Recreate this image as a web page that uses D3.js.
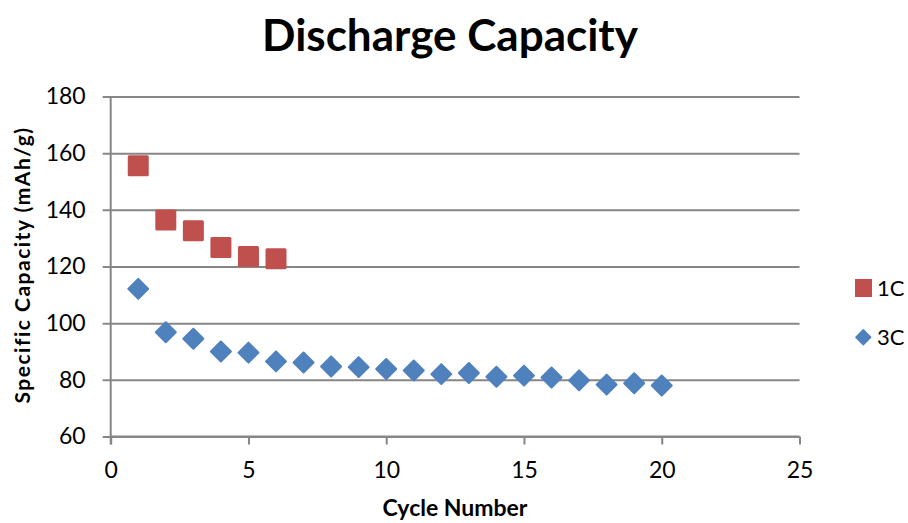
<!DOCTYPE html>
<html><head><meta charset="utf-8">
<script src="https://cdn.jsdelivr.net/npm/d3@7"></script>
<style>html,body{margin:0;padding:0;background:#fff;}svg{display:block;}</style>
</head><body>
<script>
const cycles1C = [1,2,3,4,5,6];
const values1C = [155.6,136.4,132.6,126.7,123.5,122.7];
const cycles3C = [1,2,3,4,5,6,7,8,9,10,11,12,13,14,15,16,17,18,19,20];
const values3C = [112.1,96.8,94.5,90.0,89.6,86.5,86.1,84.7,84.5,83.8,83.3,82.0,82.4,81.1,81.5,80.8,79.8,78.3,78.8,78.0];
const xTicks = [0,5,10,15,20,25];
const yTicks = [60,80,100,120,140,160,180];
const seriesNames = ["1C","3C"];

const W=908,H=523;
const font = "Lato, 'Open Sans', sans-serif";
const svg = d3.select("body").append("svg").attr("width",W).attr("height",H);
const x = d3.scaleLinear().domain([0,25]).range([110.7,799.5]);
const y = d3.scaleLinear().domain([60,180]).range([436.5,96.5]);
const grid="#868686";

const yAxis = d3.axisLeft(y).tickValues(yTicks).tickSize(8).tickPadding(17);
const gy = svg.append("g").attr("transform","translate(110.7,0)").call(yAxis);
gy.select(".domain").remove();
gy.selectAll(".tick line").attr("x2",799.5-110.7).attr("x1",-8).attr("stroke",grid).attr("stroke-width",2);
gy.selectAll(".tick text").attr("font-family",font).attr("font-size",23).attr("fill","#000");

const xAxis = d3.axisBottom(x).tickValues(xTicks).tickSize(8).tickPadding(17);
const gx = svg.append("g").attr("transform","translate(0,436.5)").call(xAxis);
gx.select(".domain").attr("d",`M110.7,0H799.5`).attr("stroke",grid).attr("stroke-width",2);
gx.selectAll(".tick line").attr("stroke",grid).attr("stroke-width",2);
gx.selectAll(".tick text").attr("font-family",font).attr("font-size",23).attr("fill","#000");

svg.append("line").attr("x1",x(0)).attr("x2",x(0)).attr("y1",y(180)).attr("y2",y(60)+8)
  .attr("stroke",grid).attr("stroke-width",2);

const data1 = cycles1C.map((c,i)=>({c,v:values1C[i]}));
const data3 = cycles3C.map((c,i)=>({c,v:values3C[i]}));
const sq=21;
svg.append("g").selectAll("rect").data(data1).join("rect")
  .attr("x",d=>x(d.c)-sq/2).attr("y",d=>y(d.v)-sq/2).attr("width",sq).attr("height",sq)
  .attr("rx",1.5).attr("fill","#c0504d");
svg.append("g").selectAll("path").data(data3).join("path")
  .attr("transform",d=>`translate(${x(d.c)},${y(d.v)}) rotate(45)`)
  .attr("d",d3.symbol().type(d3.symbolSquare).size(200)())
  .attr("stroke","#4f81bd").attr("stroke-width",2).attr("stroke-linejoin","round")
  .attr("fill","#4f81bd");

svg.append("text").attr("x",450).attr("y",51).attr("text-anchor","middle")
  .attr("font-family",font).attr("font-weight","bold").attr("font-size",44).text("Discharge Capacity");
svg.append("text").attr("x",455).attr("y",516).attr("text-anchor","middle")
  .attr("font-family",font).attr("font-weight","bold").attr("font-size",23).text("Cycle Number");
svg.append("text").attr("transform","translate(30,265) rotate(-90)").attr("text-anchor","middle")
  .attr("font-family",font).attr("font-weight","bold").attr("font-size",21).attr("letter-spacing",1.5)
  .text("Specific Capacity (mAh/g)");

svg.append("rect").attr("x",855).attr("y",279).attr("width",17).attr("height",18).attr("fill","#c0504d");
svg.append("path").attr("transform","translate(863.3,337.3) rotate(45)")
  .attr("d",d3.symbol().type(d3.symbolSquare).size(110)())
  .attr("fill","#4f81bd").attr("stroke","#4f81bd").attr("stroke-width",1.5).attr("stroke-linejoin","round");
svg.append("text").attr("x",877).attr("y",296).attr("font-family",font).attr("font-size",22).text(seriesNames[0]);
svg.append("text").attr("x",877).attr("y",345).attr("font-family",font).attr("font-size",22).text(seriesNames[1]);
</script>
</body></html>
